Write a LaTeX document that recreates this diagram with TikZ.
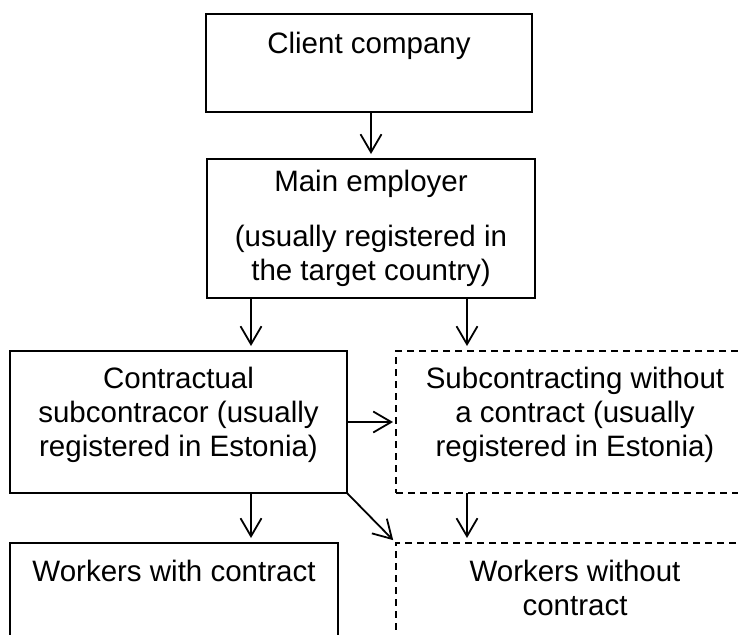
\documentclass[tikz,border=0pt]{standalone}
\usepackage{fontspec}
\setmainfont{Liberation Sans}
\usetikzlibrary{arrows.meta}

% text block of a box: width, height, first baseline, lines
\newcommand{\boxtext}[4]{\parbox[c][#2pt][t]{#1pt}{\centering\rule{0pt}{#3pt}#4\par}}

\begin{document}
\begin{tikzpicture}[x=1pt,y=-1pt,
  box/.style={draw,line width=1.8pt,inner sep=0pt,outer sep=0pt,anchor=north west},
  dbox/.style={box,dash pattern=on 7pt off 5pt},
  arr/.style={line width=1.8pt,-{Straight Barb[length=18pt,width=21pt,line width=1.8pt]},shorten >=5pt},
  font=\fontsize{29.5}{34}\selectfont]
 \useasboundingbox (0,0) rectangle (738,634);
 \clip (0,0) rectangle (738,634);

 % boxes
 \node[box] (client) at (206,14) {\boxtext{326}{98}{39}{Client company}};
 \node[box] (main) at (207,159) {\boxtext{328}{139}{32}{Main employer\\[21pt](usually registered in\\the target country)}};
 \node[box] (contr) at (10,351) {\boxtext{337}{142}{37}{Contractual\\subcontracor (usually\\registered in Estonia)}};
 \node[dbox] (subc) at (396,351) {\boxtext{358}{142}{37}{Subcontracting without\\a contract (usually\\registered in Estonia)}};
 \node[box] (wwith) at (10,543) {\boxtext{328}{140}{38}{Workers with contract}};
 \node[dbox] (wout) at (396,543) {\boxtext{358}{140}{38}{Workers without\\contract}};

 \coordinate (leftx) at (251,0);
 \coordinate (rightx) at (467,0);

 % arrows
 \draw[arr] (client.south -| main.north) -- (main.north);
 \draw[arr] (main.south -| leftx) -- (contr.north -| leftx);
 \draw[arr] (main.south -| rightx) -- (subc.north -| rightx);
 \draw[arr,shorten >=3pt] (contr.east) -- (subc.west);
 \draw[arr] (contr.south -| leftx) -- (wwith.north -| leftx);
 \draw[arr,shorten >=4pt] (contr.south east) -- (wout.north west);
 \draw[arr] (subc.south -| rightx) -- (wout.north -| rightx);
\end{tikzpicture}
\end{document}
